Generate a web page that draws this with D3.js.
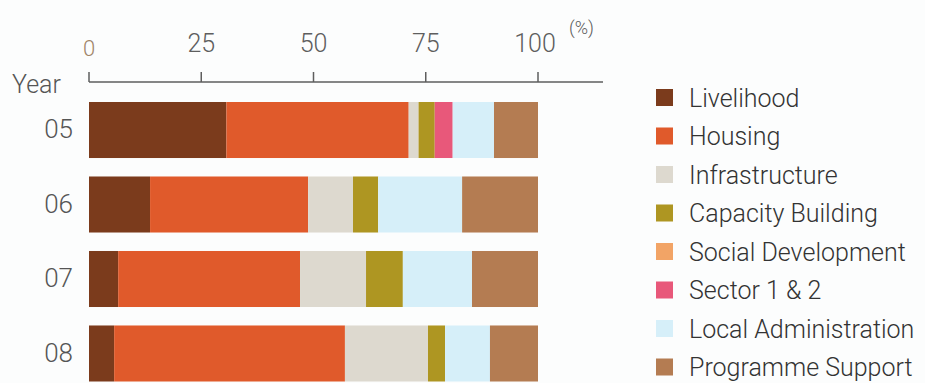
<!DOCTYPE html>
<html>
<head>
<meta charset="utf-8">
<script src="https://cdn.jsdelivr.net/npm/d3@7"></script>
<style>
  html, body { margin: 0; padding: 0; background: #fcfdfd; }
  svg { display: block; }
  text { font-family: Roboto, "Liberation Sans", Arial, sans-serif; font-weight: 300; }
</style>
</head>
<body>
<svg id="chart" width="925" height="383"></svg>
<script>
// Budget share by sector and year (%)
const years = ["05", "06", "07", "08"];
const sectors = ["Livelihood", "Housing", "Infrastructure", "Capacity Building",
                 "Social Development", "Sector 1 & 2", "Local Administration", "Programme Support"];
const livelihood     = [30.6, 13.6,  6.5,  5.6];
const housing        = [40.6, 35.2, 40.5, 51.4];
const infrastructure = [2.2, 10.0, 14.7, 18.5];
const capacity       = [3.6,  5.6,  8.2,  3.8];
const socialDev      = [0.0,  0.0,  0.0,  0.0];
const sector12       = [4.0,  0.0,  0.0,  0.0];
const localAdmin     = [9.2, 18.7, 15.4, 10.0];
const programme      = [9.8, 16.9, 14.7, 10.7];
const tickValues     = [0, 25, 50, 75, 100];
const colors = ["#7b3b1c", "#e05a2b", "#ddd9cf", "#ae9622",
                "#f2a466", "#e8587a", "#d6eff9", "#b47c52"];

const seriesValues = [livelihood, housing, infrastructure, capacity,
                      socialDev, sector12, localAdmin, programme];
const table = years.map((y, i) => {
  const row = { year: y };
  sectors.forEach((s, k) => { row[s] = seriesValues[k][i]; });
  return row;
});

const svg = d3.select("#chart");
const x = d3.scaleLinear().domain([0, 100]).range([89, 538]);
const y = d3.scaleBand().domain(years).range([102, 381.5]).paddingInner(0.248).paddingOuter(0);
const color = d3.scaleOrdinal().domain(sectors).range(colors);

const stack = d3.stack().keys(sectors)(table);

// Stacked bars
svg.append("g").selectAll("g")
  .data(stack)
  .join("g")
  .attr("fill", d => color(d.key))
  .selectAll("rect")
  .data(d => d.filter(p => p[1] - p[0] > 0))
  .join("rect")
  .attr("x", d => x(d[0]))
  .attr("y", d => y(d.data.year))
  .attr("width", d => x(d[1]) - x(d[0]))
  .attr("height", y.bandwidth());

// Top axis: line, upward ticks, labels above
const axisY = 82;
const axis = svg.append("g");
axis.append("line")
  .attr("x1", x(0)).attr("x2", 603)
  .attr("y1", axisY).attr("y2", axisY)
  .attr("stroke", "#5e5e5e").attr("stroke-width", 1.5);
axis.selectAll("line.tick")
  .data(tickValues)
  .join("line")
  .attr("class", "tick")
  .attr("x1", d => x(d)).attr("x2", d => x(d))
  .attr("y1", axisY).attr("y2", axisY - 10)
  .attr("stroke", "#5e5e5e").attr("stroke-width", 1.5);
axis.selectAll("text.tl")
  .data(tickValues)
  .join("text")
  .attr("class", "tl")
  .attr("x", d => x(d) + (d === 100 ? -3 : 0))
  .attr("y", d => d === 0 ? 56 : 52)
  .attr("text-anchor", "middle")
  .attr("font-size", d => d === 0 ? 22 : 25)
  .attr("fill", d => d === 0 ? "#a08468" : "#5e5e5e")
  .text(d => d);
axis.append("text")
  .attr("x", 569).attr("y", 34)
  .attr("font-size", 18).attr("fill", "#5e5e5e")
  .text("(%)");

// Year labels
svg.append("text")
  .attr("x", 12).attr("y", 93)
  .attr("font-size", 25).attr("fill", "#555")
  .text("Year");
svg.selectAll("text.yr")
  .data(years)
  .join("text")
  .attr("class", "yr")
  .attr("x", 73)
  .attr("y", d => y(d) + y.bandwidth() / 2 - 1)
  .attr("dy", "0.35em")
  .attr("text-anchor", "end")
  .attr("font-size", 26)
  .attr("fill", "#555")
  .text(d => d);

// Legend
const legend = svg.append("g").selectAll("g")
  .data(sectors)
  .join("g")
  .attr("transform", (d, i) => `translate(656, ${97 + i * 38.5})`);
legend.append("rect")
  .attr("x", 0).attr("y", -8)
  .attr("width", 17).attr("height", 17)
  .attr("fill", d => color(d));
legend.append("text")
  .attr("x", 33).attr("y", 1)
  .attr("dy", "0.35em")
  .attr("font-size", 25)
  .attr("fill", "#333")
  .text(d => d);
</script>
</body>
</html>
